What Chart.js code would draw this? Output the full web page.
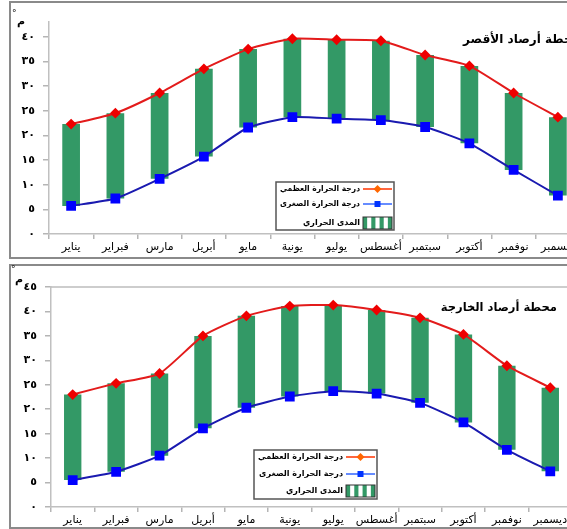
<!DOCTYPE html>
<html lang="ar">
<head>
<meta charset="utf-8">
<script src="https://cdn.jsdelivr.net/npm/chart.js@4/dist/chart.umd.min.js"></script>
<style>
  html, body { margin: 0; padding: 0; background: #fff; }
  body { width: 567px; height: 529px; overflow: hidden; position: relative; font-family: "DejaVu Sans", sans-serif; }
  .panel { position: absolute; left: 9px; width: 620px; border: 2px solid #8a8a8a; box-sizing: border-box; }
  canvas { position: absolute; left: 0; }
  .title { position: absolute; font-weight: bold; font-size: 12px; white-space: nowrap; direction: rtl; color: #000; }
  .unit { position: absolute; font-weight: bold; font-size: 11px; color: #000; }
  .deg { position: absolute; font-size: 9px; color: #000; }
</style>
</head>
<body>
<div class="panel" style="top:1px;height:258px;"></div>
<div class="panel" style="top:264px;height:265px;"></div>
<canvas id="luxor" width="600" height="260" style="top:0;"></canvas>
<canvas id="kharga" width="600" height="265" style="top:264px;"></canvas>

<div class="title" style="right:-13px;top:32px;">محطة أرصاد الأقصر</div>
<div class="title" style="right:10px;top:300px;font-size:11.5px;">محطة أرصاد الخارجة</div>
<div class="deg" style="left:12px;top:8px;">°</div>
<div class="unit" style="left:17px;top:15px;">م</div>
<div class="deg" style="left:11px;top:264px;">°</div>
<div class="unit" style="left:15px;top:273px;">م</div>

<script>
// months, left to right
const months = ['يناير', 'فبراير', 'مارس', 'أبريل', 'مايو', 'يونية', 'يوليو', 'أغسطس', 'سبتمبر', 'أكتوبر', 'نوفمبر', 'ديسمبر'];

// Luxor station (top)
const luxorMax = [22.3, 24.5, 28.6, 33.5, 37.5, 39.6, 39.4, 39.2, 36.3, 34.1, 28.6, 23.7];
const luxorMin = [5.7, 7.2, 11.2, 15.7, 21.6, 23.7, 23.4, 23.1, 21.7, 18.4, 13.0, 7.8];

// Kharga station (bottom)
const khargaMax = [23.0, 25.3, 27.3, 35.0, 39.1, 41.1, 41.3, 40.3, 38.7, 35.3, 28.9, 24.4];
const khargaMin = [5.5, 7.2, 10.5, 16.1, 20.3, 22.6, 23.7, 23.2, 21.3, 17.3, 11.7, 7.3];

// y tick labels (0..45 step 5)
const yTickLabels = ['٠', '٥', '١٠', '١٥', '٢٠', '٢٥', '٣٠', '٣٥', '٤٠', '٤٥'];

const legendNames = ['درجة الحرارة العظمي', 'درجة الحرارة الصغرى', 'المدى الحراري'];

// legend box drawn inside the plot
function legendPlugin(box) {
    return {
        id: 'boxLegend',
        afterDraw(chart) {
            const ctx = chart.ctx;
            ctx.save();
            ctx.fillStyle = '#fff';
            ctx.fillRect(box.x, box.y, box.w, box.h);
            ctx.strokeStyle = '#555';
            ctx.lineWidth = 1.5;
            ctx.strokeRect(box.x, box.y, box.w, box.h);

            const symL = box.x + box.w - 31, symR = box.x + box.w - 2;
            const mid = (symL + symR) / 2;
            const textMax = symL - 3 - (box.x + 4);
            ctx.font = 'bold 8px "DejaVu Sans", sans-serif';
            ctx.fillStyle = '#000';
            ctx.textAlign = 'right';
            ctx.textBaseline = 'middle';

            // row 1: max
            ctx.fillText(legendNames[0], symL - 3, box.rows[0], textMax);
            ctx.strokeStyle = '#ff3300';
            ctx.lineWidth = 1.5;
            ctx.beginPath(); ctx.moveTo(symL, box.rows[0]); ctx.lineTo(symR, box.rows[0]); ctx.stroke();
            ctx.fillStyle = '#ff6600';
            ctx.beginPath();
            ctx.moveTo(mid - 4, box.rows[0]); ctx.lineTo(mid, box.rows[0] - 4);
            ctx.lineTo(mid + 4, box.rows[0]); ctx.lineTo(mid, box.rows[0] + 4);
            ctx.closePath(); ctx.fill();

            // row 2: min
            ctx.fillStyle = '#000';
            ctx.fillText(legendNames[1], symL - 3, box.rows[1], textMax);
            ctx.strokeStyle = '#3366ff';
            ctx.beginPath(); ctx.moveTo(symL, box.rows[1]); ctx.lineTo(symR, box.rows[1]); ctx.stroke();
            ctx.fillStyle = '#0033ff';
            ctx.fillRect(mid - 3, box.rows[1] - 3, 6, 6);

            // row 3: range (striped box)
            ctx.fillStyle = '#000';
            ctx.fillText(legendNames[2], symL - 3, box.rows[2], textMax);
            const bx = symL, by = box.rows[2] - 6, bw = symR - symL, bh = 12;
            ctx.fillStyle = '#fff';
            ctx.fillRect(bx, by, bw, bh);
            ctx.fillStyle = '#339966';
            const stripe = bw / 7;
            for (let i = 0; i < 4; i++) {
                ctx.fillRect(bx + i * 2 * stripe, by, stripe, bh);
            }
            ctx.strokeStyle = '#333';
            ctx.lineWidth = 1;
            ctx.strokeRect(bx, by, bw, bh);
            ctx.restore();
        }
    };
}

const topLine = {
    id: 'topLine',
    afterDraw(chart, args, opts) {
        if (!opts.show) return;
        const ctx = chart.ctx, a = chart.chartArea;
        ctx.save();
        ctx.strokeStyle = '#bdbdbd';
        ctx.lineWidth = 1.5;
        ctx.beginPath(); ctx.moveTo(a.left, a.top); ctx.lineTo(a.right + 30, a.top); ctx.stroke();
        ctx.restore();
    }
};

function makeChart(id, maxVals, minVals, cfg) {
    const ctx = document.getElementById(id).getContext('2d');
    const ranges = minVals.map((v, i) => [v, maxVals[i]]);

    return new Chart(ctx, {
        type: 'bar',
        data: {
            labels: months,
            datasets: [{
                type: 'line',
                label: legendNames[0],
                data: maxVals,
                borderColor: '#e31b1b',
                borderWidth: 2,
                pointStyle: 'rectRot',
                pointRadius: 4,
                pointBackgroundColor: '#ee0000',
                pointBorderColor: '#ee0000',
                tension: 0.18,
                order: 0
            }, {
                type: 'line',
                label: legendNames[1],
                data: minVals,
                borderColor: '#1a1ab0',
                borderWidth: 2,
                pointStyle: 'rect',
                pointRadius: 5.5,
                pointBackgroundColor: '#0000ff',
                pointBorderColor: '#0000ff',
                tension: 0.18,
                order: 0
            }, {
                label: legendNames[2],
                data: ranges,
                backgroundColor: '#339966',
                borderSkipped: false,
                categoryPercentage: 1,
                barPercentage: 0.4,
                order: 1
            }]
        },
        options: {
            responsive: false,
            animation: false,
            layout: {
                autoPadding: false,
                padding: { left: 0, top: cfg.top, right: cfg.right, bottom: 0 }
            },
            plugins: {
                legend: { display: false },
                tooltip: { enabled: false },
                topLine: { show: cfg.topLine }
            },
            scales: {
                x: {
                    offset: true,
                    grid: { offset: true, drawOnChartArea: false, tickLength: 5, color: '#b5b5b5', lineWidth: 1.5 },
                    border: { color: '#c0c0c0', width: 1.5 },
                    ticks: {
                        autoSkip: false, maxRotation: 0, padding: 2, color: '#000',
                        font: { family: '"DejaVu Sans", sans-serif', size: 11 }
                    },
                    afterFit(s) { s.height = cfg.xHeight; }
                },
                y: {
                    min: 0,
                    max: cfg.yMax,
                    afterBuildTicks(s) {
                        s.ticks = yTickLabels.map((_, i) => ({ value: i * 5 })).filter(t => t.value <= s.max);
                    },
                    grid: { drawOnChartArea: false, tickLength: 6, color: '#b5b5b5', lineWidth: 1.5 },
                    border: { color: '#c0c0c0', width: 1.5 },
                    ticks: {
                        padding: 8, color: '#000',
                        callback: (v) => yTickLabels[Math.round(v / 5)],
                        font: { family: '"DejaVu Sans", sans-serif', size: 11, weight: 'bold' }
                    },
                    afterFit(s) { s.width = cfg.yWidth; }
                }
            }
        },
        plugins: [topLine, legendPlugin(cfg.legend)]
    });
}

makeChart('luxor', luxorMax, luxorMin, {
    top: 22, right: 20, xHeight: 26, yWidth: 49, yMax: 43, topLine: false,
    legend: { x: 276, y: 182, w: 118, h: 48, rows: [189, 204, 223] }
});

makeChart('kharga', khargaMax, khargaMin, {
    top: 23, right: 28, xHeight: 22, yWidth: 51, yMax: 45, topLine: true,
    legend: { x: 254, y: 186, w: 123, h: 49, rows: [193, 210, 227] }
});
</script>
</body>
</html>
